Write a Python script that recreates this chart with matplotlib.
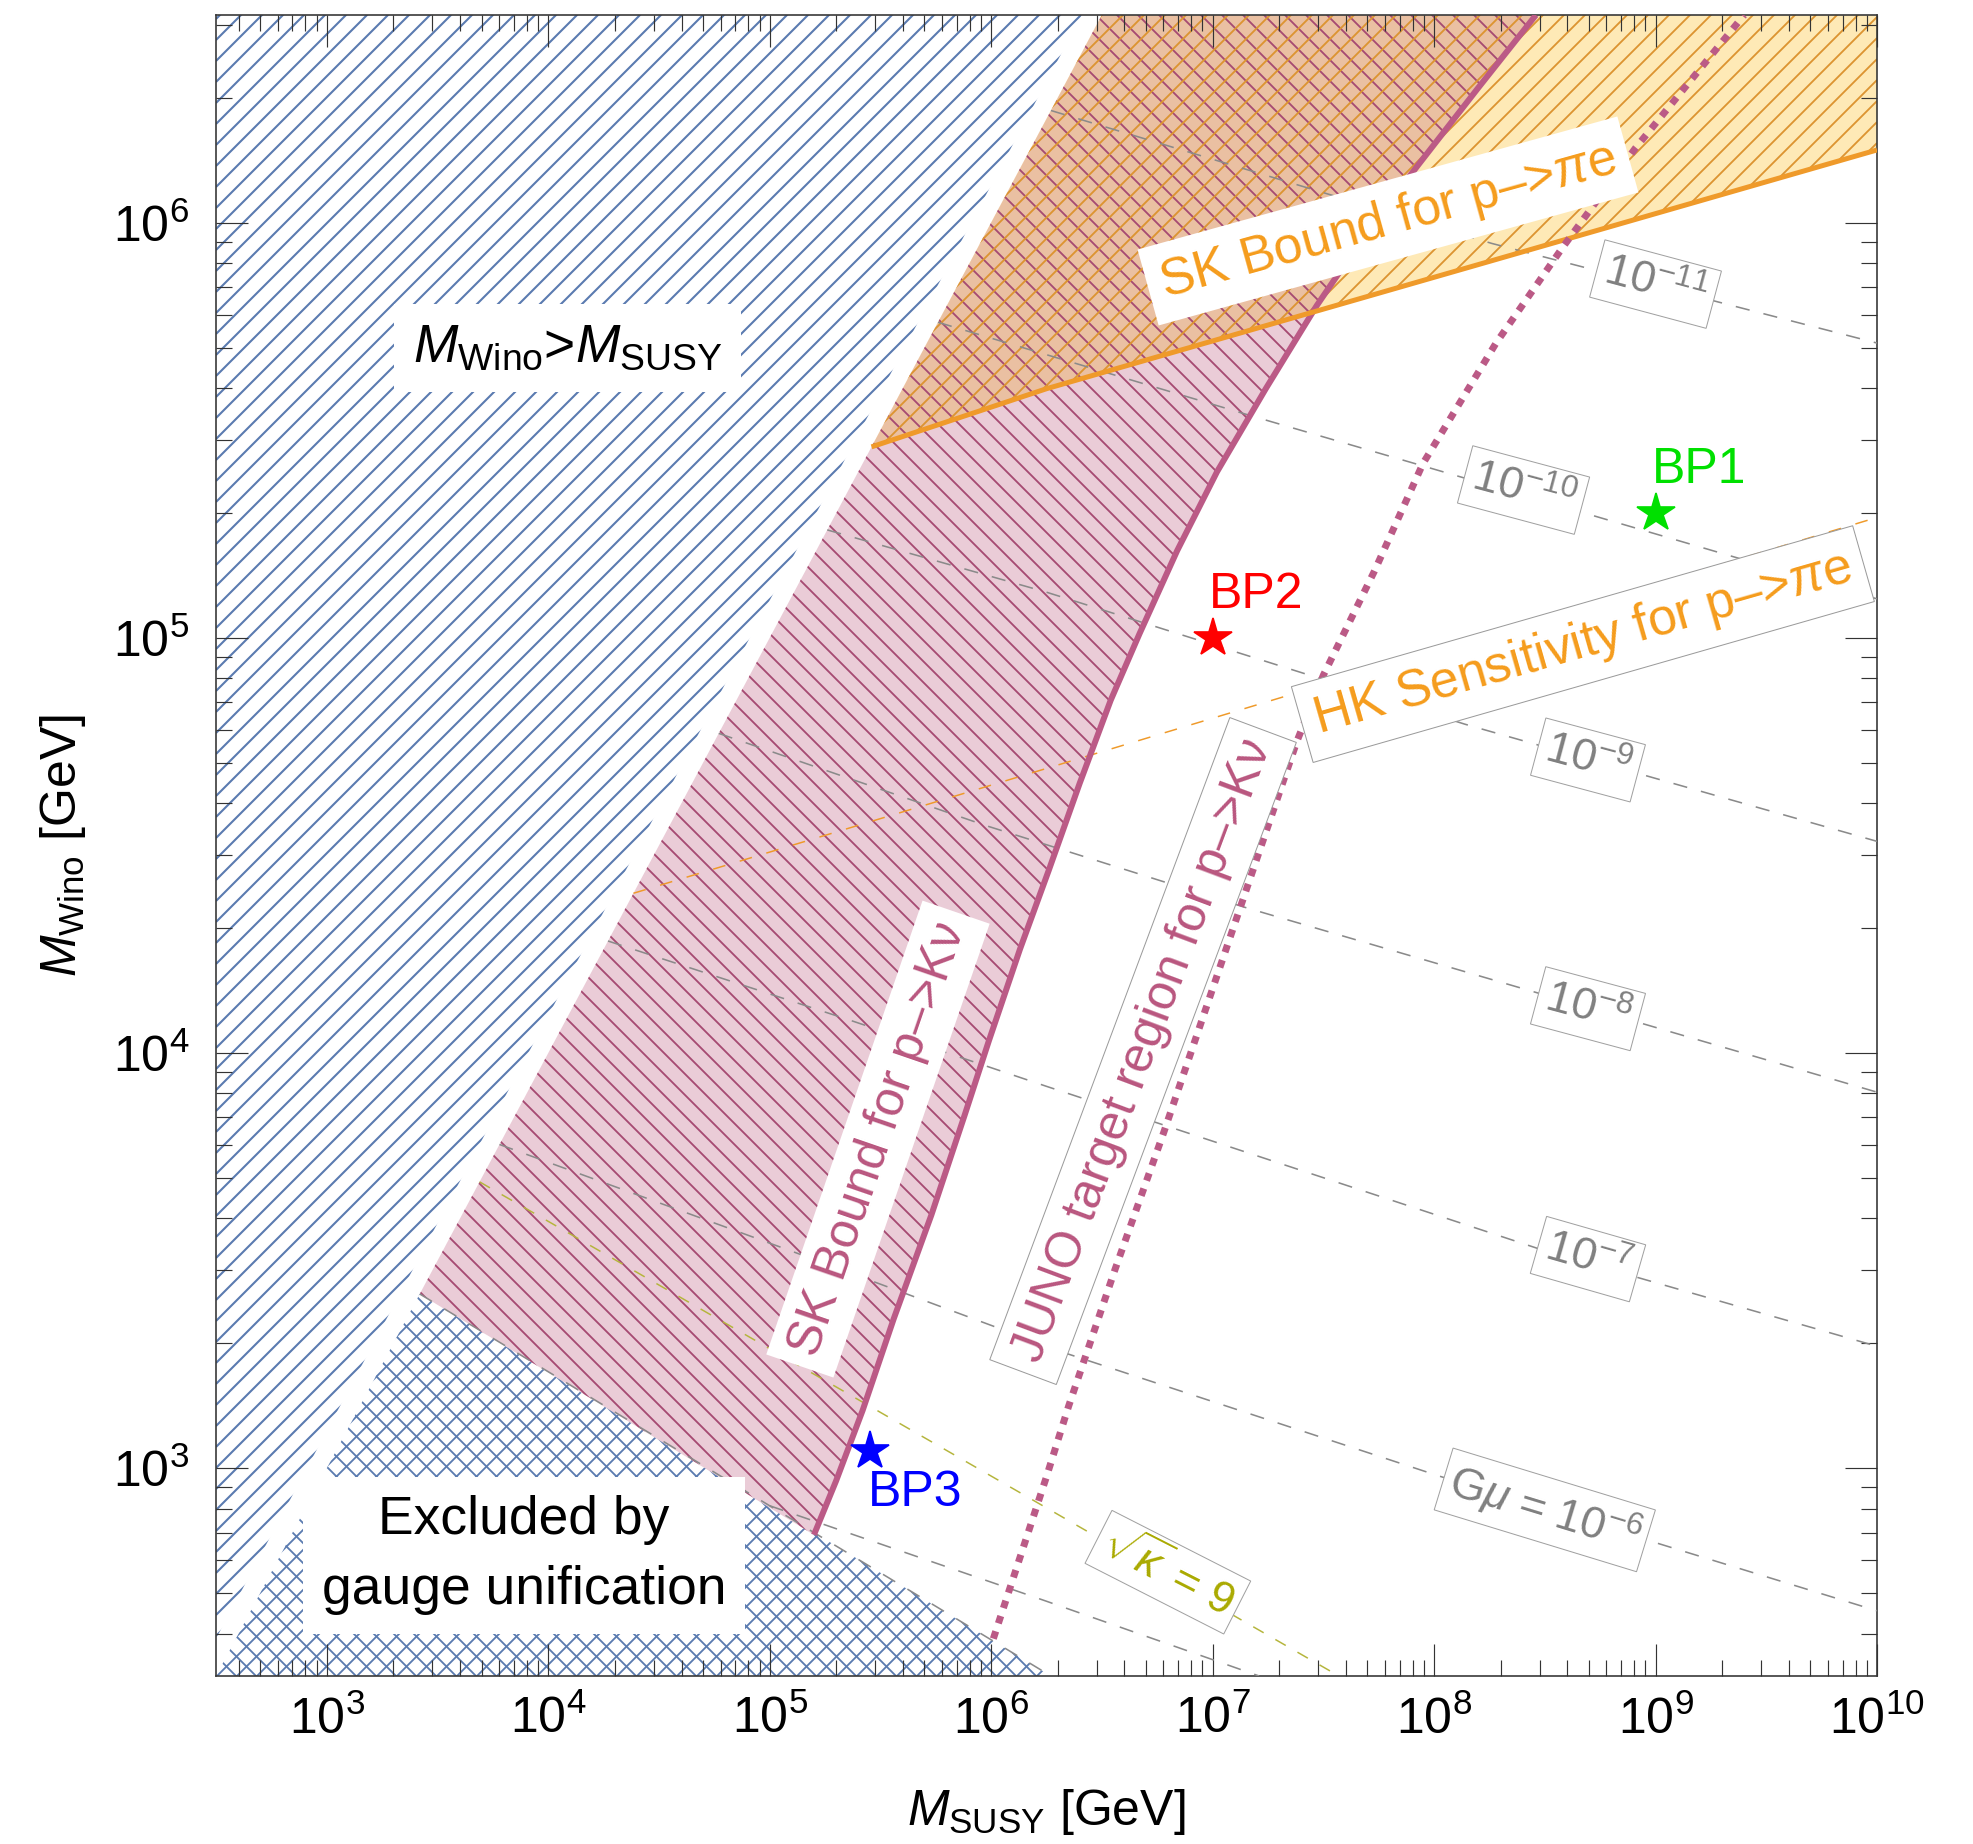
import numpy as np
import matplotlib
matplotlib.use("Agg")
import matplotlib.pyplot as plt
from matplotlib.patches import Polygon
from matplotlib.collections import LineCollection
from matplotlib.ticker import FixedLocator, NullFormatter, LogFormatterMathtext

plt.rcParams.update({
    "font.family": ["Liberation Sans", "DejaVu Sans"],
    "mathtext.fontset": "custom",
    "mathtext.rm": "Liberation Sans",
    "mathtext.it": "Liberation Sans:italic",
    "mathtext.bf": "Liberation Sans:bold",
    "mathtext.sf": "Liberation Sans",
})

# ---------------- data (log10 of masses in GeV) ----------------
LOG_MSUSY_RANGE = (2.5, 10.0)
LOG_MWINO_RANGE = (2.5, 6.5)

# Super-Kamiokande bound on p -> K nu
sk_knu_log_msusy = [5.20, 5.30, 5.42, 5.56, 5.73, 5.88, 5.99, 6.13, 6.26, 6.40, 6.54,
                    6.67, 6.84, 7.02, 7.24, 7.47, 7.70, 7.93, 8.20, 8.46]
sk_knu_log_mwino = [2.84, 2.97, 3.14, 3.36, 3.61, 3.85, 4.03, 4.25, 4.44, 4.65, 4.85,
                    5.01, 5.21, 5.40, 5.60, 5.80, 5.98, 6.14, 6.325, 6.50]

# JUNO target curve for p -> K nu
juno_log_msusy = [6.01, 6.25, 6.35, 6.56, 6.78, 7.22, 7.38, 7.50, 7.73, 7.95, 8.28, 8.58, 8.91, 9.40]
juno_log_mwino = [2.59, 2.98, 3.15, 3.48, 3.81, 4.50, 4.75, 4.91, 5.16, 5.42, 5.71, 5.94, 6.18, 6.50]

# Super-Kamiokande bound and Hyper-K sensitivity on p -> pi e
sk_pie_log_msusy = [5.46, 6.25, 10.0]
sk_pie_log_mwino = [5.46, 5.60, 6.175]
hk_pie_log_msusy = [4.385, 10.0]
hk_pie_log_mwino = [4.385, 5.29]

# gauge-unification boundary
gauge_log_msusy = [3.42, 6.27]
gauge_log_mwino = [3.42, 2.50]

# cosmic-string tension contours G mu = 10^n
gmu_exponents = [-11, -10, -9, -8, -7, -6, -5]
gmu_log_msusy = [
    [6.27, 8.26, 10.0],
    [5.76, 7.16, 8.67, 10.0],
    [5.26, 6.25, 8.14, 10.0],
    [4.77, 5.97, 7.14, 10.0],
    [4.27, 5.37, 6.25, 8.50, 10.0],
    [3.78, 5.13, 6.35, 8.02, 10.0],
    [5.00, 6.25, 7.21],
]
gmu_log_mwino = [
    [6.27, 5.95, 5.71],
    [5.76, 5.537, 5.302, 5.094],
    [5.26, 5.11, 4.792, 4.51],
    [4.77, 4.549, 4.352, 3.906],
    [4.27, 4.078, 3.92, 3.524, 3.294],
    [3.78, 3.517, 3.275, 2.982, 2.657],
    [2.91, 2.68, 2.50],
]

# sqrt(kappa) = 9 contour
kappa_log_msusy = [3.69, 7.57]
kappa_log_mwino = [3.69, 2.50]

# benchmark points
bp_names = ["BP1", "BP2", "BP3"]
bp_msusy = [1e9, 1e7, 2.85e5]
bp_mwino = [2e5, 1e5, 1.1e3]
bp_colors = ["#00e000", "#ff0000", "#0000ff"]

# ---------------- styles ----------------
BLUE = "#5a7bb0"
PINK_FILL = "#eaccd7"
PINK_HATCH = "#a64a72"
PINK_LINE = "#bb5a86"
ORANGE_FILL = "#fee9b6"
ORANGE_HATCH = "#dc9431"
OVERLAP_FILL = "#eac0a2"
ORANGE_LINE = "#ef9a2a"
ORANGE_TEXT = "#f59c1c"
PINK_TEXT = "#b9567f"
GRAY = "#8a8a8a"
OLIVE = "#b5b53c"
OLIVE_TEXT = "#aaaa00"
HATCH_STEP_PX = 21.0


def to_gev(lx, ly):
    return np.column_stack([np.power(10.0, lx), np.power(10.0, ly)])


W, H, DPI = 1973, 1844, 120
AX_PX = 1661
fig = plt.figure(figsize=(W / DPI, H / DPI), dpi=DPI)
ax = fig.add_axes([216 / W, 1 - 1676 / H, AX_PX / W, AX_PX / H])
ax.set_xscale("log")
ax.set_yscale("log")
xlo, xhi = LOG_MSUSY_RANGE
ylo, yhi = LOG_MWINO_RANGE
ax.set_xlim(10 ** xlo, 10 ** xhi)
ax.set_ylim(10 ** ylo, 10 ** yhi)


def region(xy, **kw):
    p = Polygon(xy, closed=True, transform=ax.transData, **kw)
    ax.add_patch(p)
    return p


def hatch(clip, direction, color, lw, zorder, step_px=HATCH_STEP_PX):
    """45-degree hatch lines (in screen space) clipped to a patch."""
    step = step_px / AX_PX
    cs = np.arange(-1.0 - step, 1.0 + step, step)
    if direction == "/":
        segs = [[(0.0, c), (1.0, 1.0 + c)] for c in cs]
    else:
        segs = [[(0.0, c + 1.0), (1.0, c)] for c in cs]
    lc = LineCollection(segs, colors=color, linewidths=lw, transform=ax.transAxes,
                        zorder=zorder, capstyle="butt")
    ax.add_collection(lc, autolim=False)
    lc.set_clip_path(clip)
    return lc


# M_Wino > M_SUSY (hatched)
gap = 0.09
blue_clip = region(to_gev([xlo, yhi - gap, xlo], [ylo + gap, yhi, yhi]),
                   fill=False, lw=0, zorder=1)
hatch(blue_clip, "/", BLUE, 1.25, 1)

# excluded by gauge unification (cross hatched)
g_apex = (gauge_log_msusy[0], gauge_log_mwino[0])
cross_clip = region(to_gev([xlo, g_apex[0], gauge_log_msusy[1]], [ylo, g_apex[1], gauge_log_mwino[1]]),
                    fill=False, lw=0, zorder=1)
hatch(cross_clip, "/", BLUE, 1.1, 1, step_px=20.0)
hatch(cross_clip, "\\", BLUE, 1.1, 1, step_px=20.0)

# SK p -> K nu excluded region
pink_lx = [g_apex[0], yhi] + sk_knu_log_msusy[::-1]
pink_ly = [g_apex[1], yhi] + sk_knu_log_mwino[::-1]
pink_xy = to_gev(pink_lx, pink_ly)
pink_fill = region(pink_xy, facecolor=PINK_FILL, edgecolor="none", lw=0, zorder=1.2)

# SK p -> pi e excluded region
orange_lx = [sk_pie_log_msusy[0], yhi, xhi] + sk_pie_log_msusy[::-1]
orange_ly = [sk_pie_log_mwino[0], yhi, yhi] + sk_pie_log_mwino[::-1]
orange_xy = to_gev(orange_lx, orange_ly)
orange_fill = region(orange_xy, facecolor=ORANGE_FILL, edgecolor="none", lw=0, zorder=1.2)

overlap = region(orange_xy, facecolor=OVERLAP_FILL, edgecolor="none", lw=0, zorder=1.3)
overlap.set_clip_path(pink_fill)

hatch(pink_fill, "\\", PINK_HATCH, 1.1, 1.4)
hatch(orange_fill, "/", ORANGE_HATCH, 1.1, 1.45)

# contour lines
for lx, ly in zip(gmu_log_msusy, gmu_log_mwino):
    ax.plot(np.power(10.0, lx), np.power(10.0, ly), color=GRAY, lw=0.95,
            dashes=(9, 9), zorder=3)
ax.plot(np.power(10.0, gauge_log_msusy), np.power(10.0, gauge_log_mwino), color=GRAY,
        lw=0.95, dashes=(9, 9), zorder=3)
ax.plot(np.power(10.0, kappa_log_msusy), np.power(10.0, kappa_log_mwino), color=OLIVE,
        lw=0.9, dashes=(8, 9), zorder=3)
ax.plot(np.power(10.0, hk_pie_log_msusy), np.power(10.0, hk_pie_log_mwino), color=ORANGE_LINE,
        lw=0.9, dashes=(8.5, 10), zorder=3)

# bounds
ax.plot(np.power(10.0, sk_knu_log_msusy), np.power(10.0, sk_knu_log_mwino), color=PINK_LINE,
        lw=3.6, solid_capstyle="butt", solid_joinstyle="round", zorder=4)
ax.plot(np.power(10.0, sk_pie_log_msusy), np.power(10.0, sk_pie_log_mwino), color=ORANGE_LINE,
        lw=3.0, solid_capstyle="butt", zorder=4)
ax.plot(np.power(10.0, juno_log_msusy), np.power(10.0, juno_log_mwino), color=PINK_LINE,
        lw=4.2, dashes=(1.1, 1.2), dash_capstyle="butt", zorder=4)


def label(lx, ly, s, color, rot=0.0, size=30, border=None, pad=0.25, **kw):
    bbox = dict(boxstyle=f"square,pad={pad}", facecolor="white",
                edgecolor=border if border else "none", linewidth=0.6)
    ax.text(10 ** lx, 10 ** ly, s, color=color, fontsize=size, rotation=rot,
            rotation_mode="anchor", ha="center", va="center", bbox=bbox, zorder=6, **kw)


label(4.089, 5.698, r"$M_{\mathrm{Wino}}$>$M_{\mathrm{SUSY}}$", "black", size=32, pad=0.35)
label(3.891, 2.791, "Excluded by\ngauge unification", "black", size=32, pad=0.35, linespacing=1.5)
label(7.792, 6.004, r"SK Bound for p–>$\pi$e", ORANGE_TEXT, size=31, rot=15.5)
label(8.672, 4.985, r"HK Sensitivity for p–>$\pi$e", ORANGE_TEXT, size=31, rot=16.0, border="#9a9a9a")
label(5.489, 3.793, "SK Bound for p–>Kν", PINK_TEXT, size=30, rot=71.0)
label(6.686, 4.005, "JUNO target region for p–>Kν", PINK_TEXT, size=30, rot=69.5, border="#9a9a9a")

gmu_label_pos = [(9.00, 5.852, -15), (8.404, 5.356, -15), (8.695, 4.706, -15),
                 (8.695, 4.107, -15), (8.695, 3.504, -16)]
for (lx, ly, rot), n in zip(gmu_label_pos, gmu_exponents[:5]):
    label(lx, ly, rf"$\mathit{{10}}^{{\mathit{{{n}}}}}$", "#808080", rot=rot, size=27,
          border="#a0a0a0", pad=0.18)
label(8.50, 2.90, rf"G$\mu$ = $\mathit{{10}}^{{\mathit{{{gmu_exponents[5]}}}}}$", "#808080",
      rot=-17, size=27, border="#a0a0a0", pad=0.15)
label(6.798, 2.75, r"$\sqrt{\kappa}$ = 9", OLIVE_TEXT, rot=-27, size=27, border="#a0a0a0", pad=0.15)

# benchmark points
bp_offsets = [(26, 26), (26, 26), (27, -25)]
for name, x, y, c, off in zip(bp_names, bp_msusy, bp_mwino, bp_colors, bp_offsets):
    ax.plot([x], [y], marker="*", ms=24, color=c, linestyle="none", zorder=7)
    ax.annotate(name, (x, y), xytext=off, textcoords="offset points", color=c,
                fontsize=30, ha="center", va="center", zorder=7)

# axes styling
ax.xaxis.set_major_locator(FixedLocator([10.0 ** k for k in range(3, 11)]))
ax.yaxis.set_major_locator(FixedLocator([10.0 ** k for k in range(3, 7)]))
ax.xaxis.set_minor_locator(FixedLocator([m * 10.0 ** k for k in range(2, 10) for m in range(2, 10)
                                         if 10 ** xlo <= m * 10.0 ** k <= 10 ** xhi]))
ax.yaxis.set_minor_locator(FixedLocator([m * 10.0 ** k for k in range(2, 7) for m in range(2, 10)
                                         if 10 ** ylo <= m * 10.0 ** k <= 10 ** yhi]))
for axis in (ax.xaxis, ax.yaxis):
    axis.set_major_formatter(LogFormatterMathtext())
    axis.set_minor_formatter(NullFormatter())
ax.tick_params(which="both", direction="in", top=True, right=True, color="#333333")
ax.tick_params(which="major", length=19, width=0.7, labelsize=30)
ax.tick_params(which="minor", length=9.5, width=0.7)
ax.tick_params(axis="x", which="major", pad=12)
ax.tick_params(axis="y", which="major", pad=16)
for sp in ax.spines.values():
    sp.set_color("#3a3a3a")
    sp.set_linewidth(1.0)
ax.set_axisbelow(False)
ax.set_xlim(10 ** xlo, 10 ** xhi)
ax.set_ylim(10 ** ylo, 10 ** yhi)

ax.set_xlabel(r"$M_{\mathrm{SUSY}}$ [GeV]", fontsize=30, va="center")
ax.xaxis.set_label_coords(0.5, -(1812 - 1676) / 1661)
ax.set_ylabel(r"$M_{\mathrm{Wino}}$ [GeV]", fontsize=30, va="center")
ax.yaxis.set_label_coords(-(216 - 63) / 1661, 0.5)

fig.savefig("out.png", dpi=DPI)
